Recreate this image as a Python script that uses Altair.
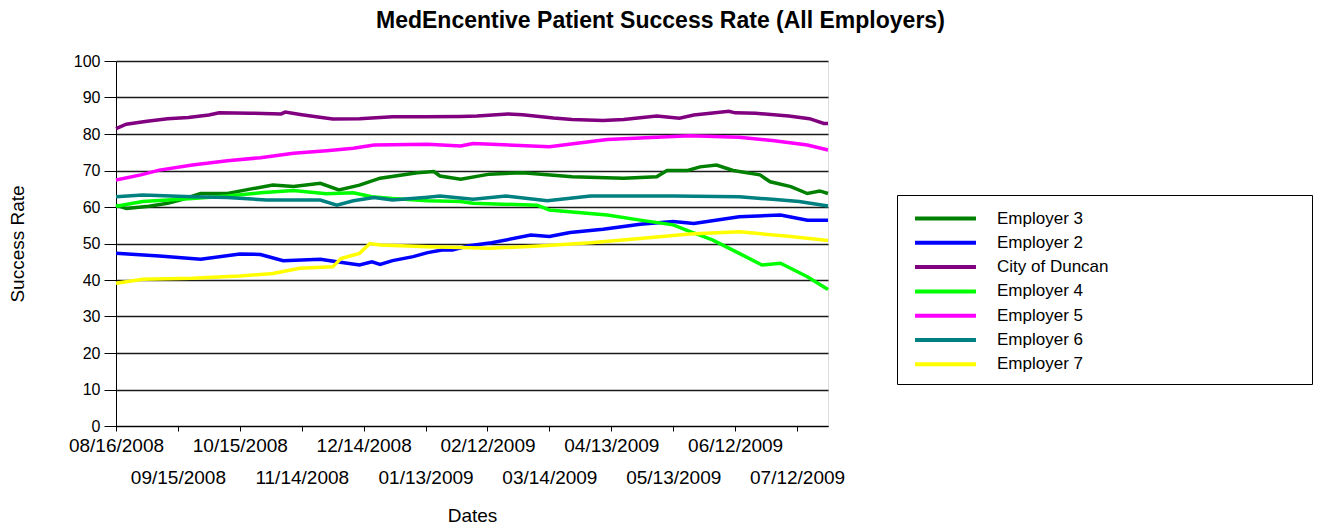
import json
import altair as alt
import pandas as pd

# ---------------- data ----------------
series_names = ["Employer 3", "Employer 2", "City of Duncan", "Employer 4",
                "Employer 5", "Employer 6", "Employer 7"]
series_colors = ["#008000", "#0000ff", "#800080", "#00ff00",
                 "#ff00ff", "#008080", "#ffff00"]

# day index = days since 08/16/2008
e3_days = [0, 5, 16, 25, 31, 41, 54, 63, 76, 86, 99, 108, 118, 128, 146, 154, 157,
           167, 181, 197, 221, 246, 262, 267, 277, 283, 291, 299, 312, 317, 327, 335, 341, 345]
e3_vals = [60.5, 59.6, 60.2, 61.0, 61.9, 63.7, 63.7, 64.7, 66.0, 65.6, 66.5, 64.7, 66.0,
           67.9, 69.4, 69.7, 68.5, 67.6, 69.0, 69.4, 68.3, 67.9, 68.3, 70.0, 70.0, 71.0,
           71.5, 70.0, 68.8, 66.9, 65.6, 63.7, 64.4, 63.7]

e2_days = [0, 21, 41, 60, 70, 81, 99, 107, 118, 124, 128, 134, 144, 151, 158, 163, 171,
           182, 201, 210, 220, 236, 254, 270, 280, 302, 322, 335, 345]
e2_vals = [47.3, 46.6, 45.7, 47.1, 47.0, 45.3, 45.7, 45.0, 44.1, 45.0, 44.3, 45.3, 46.4,
           47.5, 48.2, 48.2, 49.4, 50.2, 52.3, 51.9, 53.0, 53.9, 55.3, 56.0, 55.5, 57.3,
           57.8, 56.4, 56.4]

cd_days = [0, 5, 15, 25, 35, 45, 50, 65, 80, 82, 90, 97, 105, 118, 134, 150, 167, 175,
           190, 197, 212, 221, 236, 246, 262, 273, 280, 297, 300, 310, 326, 336, 343, 345]
cd_vals = [81.5, 82.7, 83.5, 84.2, 84.5, 85.2, 85.8, 85.7, 85.5, 86.0, 85.3, 84.7, 84.1,
           84.2, 84.7, 84.7, 84.8, 84.9, 85.5, 85.3, 84.4, 84.0, 83.7, 84.0, 84.9, 84.3,
           85.2, 86.2, 85.8, 85.7, 84.9, 84.2, 82.9, 82.9]

e4_days = [0, 13, 37, 54, 70, 86, 102, 115, 124, 134, 151, 167, 173, 204, 210, 238, 254,
           270, 277, 289, 302, 313, 322, 335, 345]
e4_vals = [60.2, 61.5, 62.3, 63.0, 63.9, 64.5, 63.6, 63.9, 62.8, 62.3, 61.7, 61.5, 61.0,
           60.5, 59.2, 57.8, 56.4, 55.1, 53.5, 51.0, 47.3, 44.1, 44.6, 40.9, 37.4]

e5_days = [0, 12, 21, 37, 54, 70, 86, 102, 115, 125, 151, 167, 173, 210, 238, 262, 278,
           302, 318, 335, 345]
e5_vals = [67.4, 68.8, 70.1, 71.5, 72.7, 73.5, 74.7, 75.4, 76.1, 77.0, 77.2, 76.7, 77.4,
           76.5, 78.5, 79.1, 79.5, 79.1, 78.2, 77.0, 75.6]

e6_days = [0, 13, 37, 54, 73, 99, 107, 115, 125, 134, 151, 157, 173, 189, 209, 230, 270,
           302, 318, 331, 345]
e6_vals = [62.8, 63.3, 62.8, 62.6, 61.9, 61.9, 60.5, 61.7, 62.6, 61.9, 62.7, 63.0, 62.1,
           63.0, 61.7, 63.0, 63.0, 62.8, 62.1, 61.5, 60.3]

e7_days = [0, 13, 37, 60, 76, 89, 105, 109, 118, 123, 128, 151, 167, 181, 205, 230, 254,
           278, 302, 327, 345]
e7_vals = [39.1, 40.2, 40.5, 41.1, 41.8, 43.2, 43.6, 45.9, 47.3, 50.0, 49.6, 49.1, 48.9,
           48.7, 49.3, 50.2, 51.4, 52.6, 53.2, 51.9, 50.8]

tick_days = [0, 30, 60, 90, 120, 150, 180, 210, 240, 270, 300, 330]
tick_labels = ["08/16/2008", "09/15/2008", "10/15/2008", "11/14/2008", "12/14/2008",
               "01/13/2009", "02/12/2009", "03/14/2009", "04/13/2009", "05/13/2009",
               "06/12/2009", "07/12/2009"]
y_ticks = [0, 10, 20, 30, 40, 50, 60, 70, 80, 90, 100]

# ---------------- table ----------------
all_series = [
    ("Employer 3", e3_days, e3_vals),
    ("Employer 2", e2_days, e2_vals),
    ("City of Duncan", cd_days, cd_vals),
    ("Employer 4", e4_days, e4_vals),
    ("Employer 5", e5_days, e5_vals),
    ("Employer 6", e6_days, e6_vals),
    ("Employer 7", e7_days, e7_vals),
]
rows = []
for k, (name, ds, vs) in enumerate(all_series):
    for d, v in zip(ds, vs):
        rows.append({"series": name, "day": d, "rate": v, "k": k})
df = pd.DataFrame(rows)

labels_js = json.dumps(tick_labels)
x_label_expr = (
    f"(round(datum.value/30) % 2 == 1) ? ['', {labels_js}[round(datum.value/30)]] "
    f": {labels_js}[round(datum.value/30)]"
)
# blank (non-whitespace) glyphs widen the legend box to the reference's size
pad = "\u2800" * 16
legend_label_expr = f"datum.label + '{pad}'"

FONT = "Liberation Sans, Arial, sans-serif"

chart = alt.Chart(df).mark_line(strokeWidth=3.5).encode(
    x=alt.X("day:Q",
            scale=alt.Scale(domain=[0, 345], nice=False, zero=False),
            axis=alt.Axis(values=tick_days, labelExpr=x_label_expr, title="Dates",
                          grid=False, tickSize=5, labelPadding=5,
                          labelFontSize=19, labelLineHeight=32, labelFont=FONT,
                          labelColor="black", labelFlush=False, labelOverlap=False,
                          titleFontSize=19, titleFont=FONT, titleFontWeight="normal",
                          titlePadding=19, titleColor="black",
                          domainColor="black", tickColor="black")),
    y=alt.Y("rate:Q",
            scale=alt.Scale(domain=[0, 100], nice=False),
            axis=alt.Axis(values=y_ticks, title="Success Rate", grid=True,
                          gridColor="#1a1a1a", gridWidth=1.3,
                          tickSize=12, labelPadding=4, labelFontSize=16, labelFont=FONT,
                          labelColor="black",
                          titleFontSize=19, titleFont=FONT, titleFontWeight="normal",
                          titlePadding=46, titleColor="black",
                          domainColor="black", tickColor="black")),
    color=alt.Color("series:N",
                    scale=alt.Scale(domain=series_names, range=series_colors),
                    legend=alt.Legend(title=None, orient="none", legendX=781, legendY=134,
                                      symbolType="M-3,0H3", symbolSize=413,
                                      symbolStrokeWidth=4, symbolOffset=25,
                                      labelOffset=39, labelFontSize=17, labelFont=FONT,
                                      labelColor="black", labelLimit=0,
                                      labelExpr=legend_label_expr,
                                      rowPadding=3.3, padding=11,
                                      strokeColor="black", fillColor="white")),
    order=alt.Order("k:Q"),
).properties(
    width=712,
    height=365,
    title=alt.TitleParams("MedEncentive Patient Success Rate (All Employers)",
                          fontSize=23, font=FONT, fontWeight="bold", color="black",
                          anchor="middle", frame="bounds", offset=20),
    padding={"left": 108, "top": 53, "right": 485, "bottom": 98},
    autosize=alt.AutoSizeParams(type="none"),
).configure_view(
    fill="#d3d3d3", stroke="#555555", strokeWidth=1.5
).configure(background="white")

chart.save("out.html", embed_options={"renderer": "svg", "actions": False})
